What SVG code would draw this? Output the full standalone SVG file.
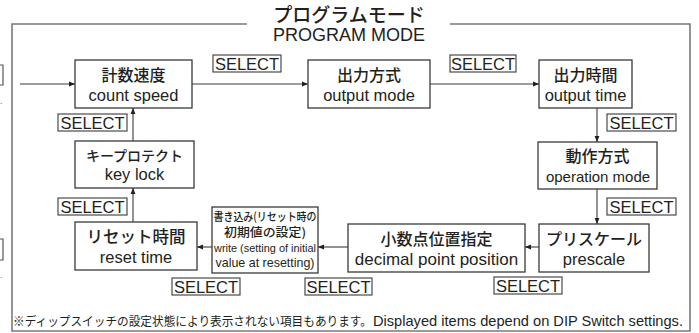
<svg xmlns="http://www.w3.org/2000/svg" width="699" height="333" viewBox="0 0 699 333">
<defs>
<style>
.frame{fill:none;stroke:#7a7a7a;stroke-width:1.6}
.box{fill:#fff;stroke:#3a3a3a;stroke-width:1.3}
.sel{fill:#fff;stroke:#3a3a3a;stroke-width:1.1}
.conn{fill:none;stroke:#3a3a3a;stroke-width:1.1;marker-end:url(#ah)}
.jp{font-family:"Noto Sans CJK JP","Noto Sans",sans-serif;font-weight:500;fill:#231f20;text-anchor:middle}
.en{font-family:"Liberation Sans",Arial,sans-serif;fill:#231f20;text-anchor:middle}
.jps{font-family:"Noto Sans CJK JP","Noto Sans",sans-serif;fill:#231f20;text-anchor:start}
.ens{font-family:"Liberation Sans",Arial,sans-serif;fill:#231f20;text-anchor:start}
.st{font-family:"Liberation Sans",Arial,sans-serif;font-size:16.5px;fill:#231f20;text-anchor:middle}
</style>
<marker id="ah" viewBox="0 0 10 10" refX="10" refY="5" markerWidth="6" markerHeight="6" markerUnits="userSpaceOnUse" orient="auto">
<path d="M0,1 L10,5 L0,9 Z" fill="#231f20"/>
</marker>
</defs>
<rect width="699" height="333" fill="#fff"/>

<!-- cropped fragments at left edge -->
<path d="M0,65 H3 V85 H0 M0,239 H3 V260 H0" fill="none" stroke="#555" stroke-width="1.2"/>
<rect x="0.5" y="103" width="1.5" height="1" fill="#aaa"/>
<rect x="0.5" y="277" width="1.5" height="1" fill="#aaa"/>

<!-- outer frame -->
<path class="frame" d="M247,24 H12 V331 H690 V24 H450"/>
<g id="title">
<text class="jp" x="349" y="22" font-size="19" font-weight="400">プログラムモード</text>
<text class="en" x="349" y="41" font-size="18">PROGRAM MODE</text>
</g>

<g id="connectors">
<line class="conn" x1="20" y1="84" x2="75" y2="84"/>
<line class="conn" x1="192" y1="84" x2="308" y2="84"/>
<line class="conn" x1="430" y1="84" x2="539" y2="84"/>
<line class="conn" x1="597" y1="108" x2="597" y2="142"/>
<line class="conn" x1="597" y1="189" x2="597" y2="224"/>
<line class="conn" x1="539" y1="247" x2="525" y2="247"/>
<line class="conn" x1="348" y1="247" x2="318" y2="247"/>
<line class="conn" x1="212" y1="247" x2="197" y2="247"/>
<line class="conn" x1="133" y1="222" x2="133" y2="188"/>
<line class="conn" x1="133" y1="141" x2="133" y2="108"/>
</g>

<g id="select-labels">
<rect class="sel" x="213" y="55" width="68" height="17"/><text class="st" x="247" y="69.5">SELECT</text>
<rect class="sel" x="450" y="55" width="66" height="17"/><text class="st" x="483" y="69.5">SELECT</text>
<rect class="sel" x="607" y="114" width="69" height="17"/><text class="st" x="641.5" y="128.5">SELECT</text>
<rect class="sel" x="607" y="198" width="69" height="17"/><text class="st" x="641.5" y="212.5">SELECT</text>
<rect class="sel" x="494" y="277" width="68" height="17"/><text class="st" x="528" y="291.5">SELECT</text>
<rect class="sel" x="305" y="278" width="67" height="17"/><text class="st" x="338.5" y="292.5">SELECT</text>
<rect class="sel" x="172" y="278" width="68" height="17"/><text class="st" x="206" y="292.5">SELECT</text>
<rect class="sel" x="58" y="114" width="69" height="17"/><text class="st" x="92.5" y="128.5">SELECT</text>
<rect class="sel" x="58" y="198" width="69" height="17"/><text class="st" x="92.5" y="212.5">SELECT</text>
</g>

<g id="count-speed">
<rect class="box" x="75" y="60" width="117" height="48"/>
<text class="jp" x="133.5" y="81" font-size="16">計数速度</text>
<text class="en" x="133.5" y="101" font-size="16.5">count speed</text>
</g>
<g id="output-mode">
<rect class="box" x="308" y="60" width="122" height="48"/>
<text class="jp" x="369" y="81" font-size="16">出力方式</text>
<text class="en" x="369" y="101" font-size="16.5">output mode</text>
</g>
<g id="output-time">
<rect class="box" x="539" y="60" width="93" height="48"/>
<text class="jp" x="585.5" y="81" font-size="16">出力時間</text>
<text class="en" x="585.5" y="101" font-size="16.5">output time</text>
</g>
<g id="operation-mode">
<rect class="box" x="538" y="142" width="119" height="47"/>
<text class="jp" x="597.5" y="162" font-size="16">動作方式</text>
<text class="en" x="598" y="182" font-size="15">operation  mode</text>
</g>
<g id="prescale">
<rect class="box" x="539" y="224" width="110" height="48"/>
<text class="jp" x="594" y="245" font-size="16">プリスケール</text>
<text class="en" x="594" y="265" font-size="16.5">prescale</text>
</g>
<g id="decimal-point-position">
<rect class="box" x="348" y="224" width="177" height="48"/>
<text class="jp" x="436.5" y="245" font-size="16">小数点位置指定</text>
<text class="en" x="436.5" y="265" font-size="17">decimal point position</text>
</g>
<g id="write">
<rect class="box" x="212" y="207" width="106" height="66"/>
<text class="jp" x="265" y="220.5" font-size="11.5" textLength="103" lengthAdjust="spacingAndGlyphs">書き込み(リセット時の</text>
<text class="jp" x="265" y="236.5" font-size="12" textLength="82" lengthAdjust="spacingAndGlyphs">初期値の設定)</text>
<text class="en" x="265" y="252" font-size="11.5" textLength="102" lengthAdjust="spacingAndGlyphs">write (setting of initial</text>
<text class="en" x="265" y="267" font-size="13" textLength="99" lengthAdjust="spacingAndGlyphs">value at resetting)</text>
</g>
<g id="reset-time">
<rect class="box" x="75" y="222" width="122" height="48"/>
<text class="jp" x="136" y="243" font-size="16.5">リセット時間</text>
<text class="en" x="136" y="263" font-size="16.5">reset time</text>
</g>
<g id="key-lock">
<rect class="box" x="75" y="141" width="119" height="47"/>
<text class="jp" x="134.5" y="161" font-size="14">キープロテクト</text>
<text class="en" x="134.5" y="180" font-size="16.5">key lock</text>
</g>

<g id="footnote">
<text class="jps" x="13" y="326" font-size="12.5" textLength="359" lengthAdjust="spacingAndGlyphs">※ディップスイッチの設定状態により表示されない項目もあります。</text>
<text class="ens" x="373" y="326" font-size="14.5" textLength="310" lengthAdjust="spacingAndGlyphs">Displayed items depend on DIP Switch settings.</text>
</g>
</svg>
